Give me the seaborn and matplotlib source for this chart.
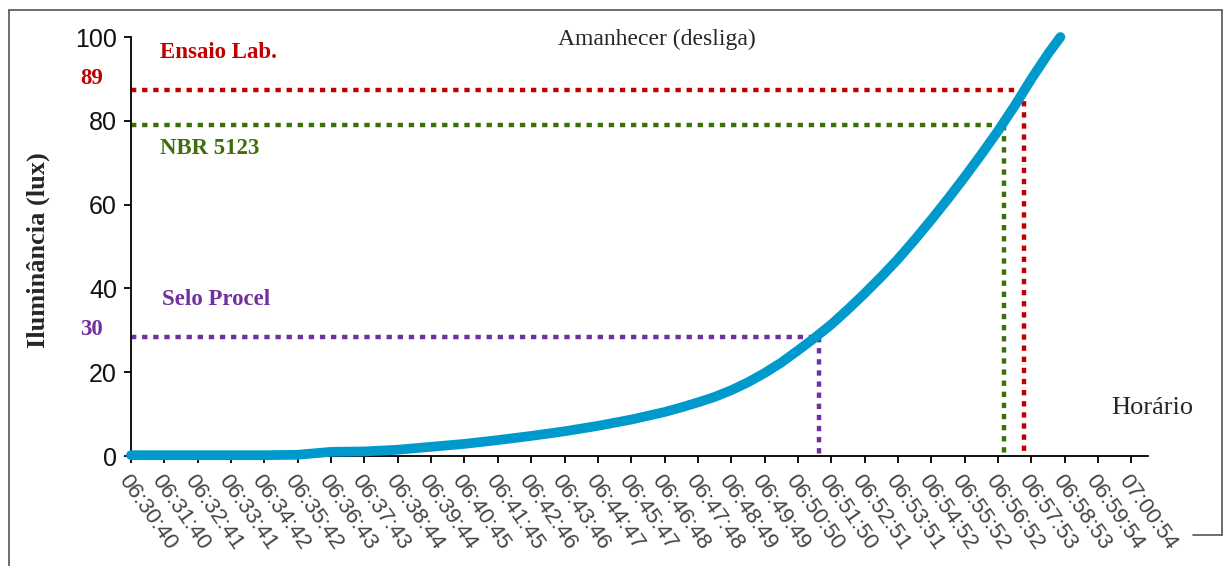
import numpy as np
import pandas as pd
import seaborn as sns
from matplotlib import pyplot as plt
from matplotlib import font_manager
from matplotlib.lines import Line2D

# horario (tick labels on x axis, one per reading interval)
HORARIO = [
    "06:30:40", "06:31:40", "06:32:41", "06:33:41", "06:34:42", "06:35:42",
    "06:36:43", "06:37:43", "06:38:44", "06:39:44", "06:40:45", "06:41:45",
    "06:42:46", "06:43:46", "06:44:47", "06:45:47", "06:46:48", "06:47:48",
    "06:48:49", "06:49:49", "06:50:50", "06:51:50", "06:52:51", "06:53:51",
    "06:54:52", "06:55:52", "06:56:52", "06:57:53", "06:58:53", "06:59:54",
    "07:00:54",
]

# curve (position in tick units, lux)
pos = [0, 1, 2, 3, 4, 5, 6, 7, 8, 9, 10, 11, 12, 13, 14, 15, 16, 16.5, 17,
       17.5, 18, 18.5, 19, 19.5, 20, 20.5, 21, 21.5, 22, 22.5, 23, 23.5, 24,
       24.5, 25, 25.5, 26, 26.5, 27, 27.5, 27.87]
lux = [0.2, 0.2, 0.2, 0.2, 0.2, 0.3, 1.0, 1.1, 1.5, 2.2, 2.9, 3.8, 4.8, 5.9,
       7.2, 8.7, 10.5, 11.6, 12.8, 14.1, 15.7, 17.6, 19.8, 22.3, 25.2, 28.2,
       31.4, 35.0, 38.8, 42.8, 47.0, 51.6, 56.4, 61.4, 66.6, 72.0, 77.6, 83.6,
       90.0, 96.0, 100.0]

# reference levels: drawn level, crossing position, colour
ref_level = [87.3, 78.9, 28.5]
ref_cross = [26.77, 26.17, 20.64]
ref_colors = ["#C00000", "#3F6F0A", "#7030A0"]

df = pd.DataFrame({"pos": pos, "lux": lux})

sns.set_style("white")
names = {f.name for f in font_manager.fontManager.ttflist}
narrow = "Liberation Sans Narrow" if "Liberation Sans Narrow" in names else "Liberation Sans"
plt.rcParams["font.family"] = ["Liberation Serif", "DejaVu Serif"]

fig = plt.figure(figsize=(12.24, 5.66), dpi=100)
ax = fig.add_axes([0.107, 0.1943, 0.938 - 0.107, 0.9346 - 0.1943])

sns.lineplot(data=df, x="pos", y="lux", ax=ax, color="#0099CC", linewidth=7,
             solid_capstyle="round", solid_joinstyle="round", zorder=3,
             clip_on=False)

dots = (0, (1.2, 1.3))
for lvl, xc, col in zip(ref_level, ref_cross, ref_colors):
    ax.plot([0, xc], [lvl, lvl], color=col, lw=3.2, linestyle=dots,
            dash_capstyle="butt", zorder=2, clip_on=False)
    ax.plot([xc, xc], [lvl, 0], color=col, lw=3.2, linestyle=dots,
            dash_capstyle="butt", zorder=2, clip_on=False)

ax.set_xlim(0, 30.5)
ax.set_ylim(0, 100)
ax.set_xticks(range(len(HORARIO)))
ax.set_xticklabels(HORARIO, rotation=-55, ha="left", va="top",
                   rotation_mode="anchor", fontsize=16, color="#444444",
                   family="Liberation Sans")
ax.set_yticks([0, 20, 40, 60, 80, 100])
ax.set_yticklabels(["0", "20", "40", "60", "80", "100"], fontsize=18,
                   family=narrow, color="#111111")
ax.tick_params(axis="both", direction="out", length=5, width=1.3, color="black",
               left=True, bottom=True)
ax.tick_params(axis="x", pad=6)
ax.tick_params(axis="y", pad=5)
ax.set_xlabel("")
ax.set_ylabel("")
sns.despine(ax=ax)
for s in ["left", "bottom"]:
    ax.spines[s].set_color("black")
    ax.spines[s].set_linewidth(1.3)

# texts for the reference levels
ax.text(0.87, 96.2, "Ensaio Lab.", color=ref_colors[0], fontsize=16.5,
        fontweight="bold", va="center", ha="left")
ax.text(-1.53, 90.2, "89", color=ref_colors[0], fontsize=16.5,
        fontweight="bold", va="center", ha="left", clip_on=False)
ax.text(0.87, 73.4, "NBR 5123", color=ref_colors[1], fontsize=16.5,
        fontweight="bold", va="center", ha="left")
ax.text(0.93, 37.4, "Selo Procel", color=ref_colors[2], fontsize=16.5,
        fontweight="bold", va="center", ha="left")
ax.text(-1.53, 30.2, "30", color=ref_colors[2], fontsize=16.5,
        fontweight="bold", va="center", ha="left", clip_on=False)

fig.text(0.537, 0.93, "Amanhecer (desliga)", fontsize=17, ha="center", va="center")
fig.text(0.941, 0.279, "Horário", fontsize=19, ha="center", va="center")
fig.text(0.031, 0.558, "Iluminância (lux)", fontsize=19, fontweight="bold",
         rotation=90, ha="center", va="center")

# outer frame
frame = dict(color="#555555", lw=1.2, transform=fig.transFigure)
fig.add_artist(Line2D([0.0074, 0.0074], [0.982, 0.0], **frame))
fig.add_artist(Line2D([0.0074, 0.9984], [0.982, 0.982], **frame))
fig.add_artist(Line2D([0.9984, 0.9984], [0.982, 0.0548], **frame))
fig.add_artist(Line2D([0.975, 0.9984], [0.0548, 0.0548], **frame))

fig.savefig("out.png", dpi=100)
